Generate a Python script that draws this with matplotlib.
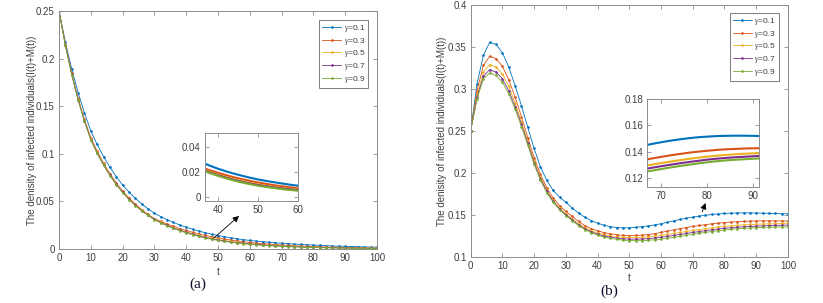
import matplotlib
matplotlib.use("Agg")
from matplotlib import pyplot as plt

# figure data
t = list(range(0, 101, 2))
labels = [r"$\gamma$=0.1", r"$\gamma$=0.3", r"$\gamma$=0.5", r"$\gamma$=0.7", r"$\gamma$=0.9"]

# panel (a)
a_g01 = [.2500, .2174, .1890, .1643, .1429, .1242, .1098, .0971, .0859, .0760, .0672,
         .0598, .0533, .0474, .0422, .0376, .0340, .0308, .0279, .0252, .0228,
         .0207, .0188, .0171, .0155, .0141, .0129, .0118, .0108, .0098, .0090,
         .0083, .0077, .0071, .0065, .0060, .0056, .0052, .0048, .0044, .0041,
         .0038, .0035, .0032, .0030, .0028, .0026, .0024, .0022, .0020, .0019]
a_g03 = [.2500, .2148, .1845, .1585, .1362, .1170, .1027, .0902, .0791, .0695, .0610,
         .0536, .0471, .0414, .0364, .0320, .0290, .0262, .0238, .0215, .0195,
         .0176, .0158, .0143, .0129, .0116, .0105, .0094, .0085, .0077, .0069,
         .0062, .0057, .0051, .0046, .0042, .0038, .0034, .0031, .0028, .0025,
         .0023, .0020, .0018, .0017, .0015, .0014, .0012, .0011, .0010, .0009]
a_g05 = [.2500, .2143, .1836, .1573, .1349, .1156, .1014, .0889, .0780, .0684, .0600,
         .0527, .0462, .0406, .0356, .0313, .0280, .0251, .0225, .0201, .0180,
         .0160, .0142, .0127, .0113, .0100, .0089, .0080, .0071, .0064, .0057,
         .0051, .0046, .0042, .0038, .0034, .0031, .0028, .0025, .0022, .0020,
         .0018, .0016, .0015, .0013, .0012, .0011, .0010, .0009, .0008, .0007]
a_g07 = [.2500, .2141, .1833, .1569, .1343, .1150, .1008, .0884, .0775, .0680, .0596,
         .0523, .0459, .0403, .0354, .0311, .0277, .0247, .0220, .0196, .0175,
         .0155, .0137, .0121, .0107, .0095, .0085, .0075, .0067, .0060, .0053,
         .0048, .0043, .0038, .0034, .0031, .0028, .0025, .0022, .0020, .0018,
         .0016, .0015, .0013, .0012, .0011, .0010, .0009, .0008, .0007, .0006]
a_g09 = [.2500, .2139, .1830, .1566, .1340, .1146, .1004, .0880, .0771, .0676, .0592,
         .0520, .0456, .0401, .0352, .0309, .0274, .0243, .0216, .0192, .0170,
         .0150, .0132, .0116, .0102, .0090, .0080, .0071, .0062, .0055, .0049,
         .0044, .0039, .0035, .0031, .0028, .0025, .0022, .0020, .0018, .0016,
         .0014, .0013, .0012, .0011, .00095, .00085, .00076, .00068, .00061, .00055]

# panel (b)
b_g01 = [.250, .306, .340, .3555, .353, .343, .326, .304, .280, .254, .229,
         .207, .191, .179, .171, .165, .158, .152, .147, .143, .140,
         .1375, .1358, .1348, .1344, .1345, .1350, .1358, .1368, .1380, .1393,
         .1410, .1427, .1444, .1459, .1472, .1484, .1494, .1503, .1510, .1515,
         .1519, .1521, .1522, .1522, .1521, .1519, .1517, .1515, .1513, .1511]
b_g03 = [.250, .298, .328, .339, .336, .327, .311, .290, .267, .242, .218,
         .198, .182, .170, .161, .154, .148, .142, .137, .1335, .1308,
         .1288, .1273, .1262, .1255, .1252, .1253, .1257, .1264, .1275, .1290,
         .1305, .1320, .1335, .1348, .1360, .1372, .1382, .1392, .1400, .1407,
         .1413, .1418, .1421, .1424, .1426, .1427, .1427, .1427, .1427, .1426]
b_g05 = [.250, .293, .320, .329, .326, .318, .303, .283, .261, .237, .214,
         .195, .179, .167, .158, .151, .145, .139, .1345, .1310, .1283,
         .1263, .1249, .1239, .1232, .1229, .1229, .1232, .1237, .1245, .1254,
         .1265, .1277, .1289, .1301, .1313, .1324, .1335, .1345, .1354, .1362,
         .1369, .1375, .1380, .1384, .1387, .1390, .1392, .1394, .1396, .1398]
b_g07 = [.250, .290, .315, .323, .320, .312, .298, .279, .258, .235, .212,
         .193, .178, .166, .157, .150, .144, .138, .1333, .1297, .1269,
         .1248, .1233, .1222, .1214, .1210, .1209, .1211, .1216, .1223, .1232,
         .1242, .1253, .1265, .1277, .1289, .1300, .1311, .1321, .1330, .1339,
         .1346, .1352, .1357, .1361, .1365, .1368, .1371, .1373, .1375, .1377]
b_g09 = [.250, .288, .312, .319, .316, .308, .294, .276, .255, .233, .210,
         .191, .176, .165, .156, .149, .143, .137, .1322, .1286, .1257,
         .1235, .1219, .1207, .1198, .1193, .1191, .1192, .1196, .1202, .1210,
         .1220, .1231, .1243, .1255, .1267, .1279, .1290, .1300, .1310, .1319,
         .1327, .1333, .1338, .1342, .1346, .1349, .1351, .1353, .1354, .1355]

series_a = [a_g01, a_g03, a_g05, a_g07, a_g09]
series_b = [b_g01, b_g03, b_g05, b_g07, b_g09]

# figure params
colors = ["#0072BD", "#D95319", "#EDB120", "#7E2F8E", "#77AC30"]
frame_color = "#8c8c8c"
text_color = "#404040"
ylabel_text = "The denisity of infected individuals(I(t)+M(t))"
plt.rcParams["font.family"] = ["Liberation Sans", "DejaVu Sans"]
plt.rcParams["mathtext.fontset"] = "custom"
plt.rcParams["mathtext.it"] = "Liberation Serif:italic"


def style_axes(ax, fs=7):
    for sp in ax.spines.values():
        sp.set_color(frame_color)
        sp.set_linewidth(0.7)
    ax.tick_params(direction="in", top=True, right=True, length=3, width=0.6,
                   color=frame_color, labelcolor=text_color, labelsize=fs, pad=3)


def fmt(v):
    return ("%g" % v)


# figure making
fig = plt.figure(figsize=(8.23, 3.03), dpi=100)

panels = [
    dict(series=series_a, rect=[0.0717, 0.1782, 0.3864, 0.7855], ylim=(0, 0.25),
         yticks=[0, 0.05, 0.1, 0.15, 0.2, 0.25],
         inset=[0.2491, 0.3366, 0.1134, 0.2254], ixlim=(36.8, 60.2), iylim=(-0.0035, 0.052),
         ixticks=[40, 50, 60], iyticks=[0, 0.02, 0.04],
         arrow=((48.7, 0.0116), (56.6, 0.0347)), leg=(0.972, 0.962),
         tag="(a)", tagpos=(198 / 823, 1 - 284 / 303), tpos=(218 / 823, 1 - 272 / 303),
         ylx=32 / 823),
    dict(series=series_b, rect=[0.5719, 0.1528, 0.3855, 0.8307], ylim=(0.1, 0.4),
         yticks=[0.1, 0.15, 0.2, 0.25, 0.3, 0.35, 0.4],
         inset=[0.7865, 0.3828, 0.1354, 0.2894], ixlim=(67, 91.2), iylim=(0.113, 0.18),
         ixticks=[70, 80, 90], iyticks=[0.12, 0.14, 0.16, 0.18],
         arrow=((73.0, 0.1536), (74.0, 0.164)), leg=(0.9716, 0.968),
         tag="(b)", tagpos=(609 / 823, 1 - 291 / 303), tpos=(629 / 823, 1 - 278 / 303),
         ylx=442 / 823),
]

for p in panels:
    ax = fig.add_axes(p["rect"])
    for ys, c, lab in zip(p["series"], colors, labels):
        ax.plot(t, ys, color=c, lw=0.6, marker=".", ms=1.8, label=lab)
    ax.set_xlim(0, 100)
    ax.set_ylim(*p["ylim"])
    ax.set_xticks(range(0, 101, 10))
    ax.set_yticks(p["yticks"])
    ax.set_yticklabels([fmt(v) for v in p["yticks"]])
    style_axes(ax)
    leg = ax.legend(loc="upper right", bbox_to_anchor=p["leg"], fontsize=6,
                    frameon=True, fancybox=False, handlelength=2.3, labelspacing=0.2,
                    borderpad=0.35, handletextpad=0.3, borderaxespad=0)
    leg.get_frame().set_edgecolor("#404040")
    leg.get_frame().set_linewidth(0.6)
    for txt in leg.get_texts():
        txt.set_color(text_color)

    ax.annotate("", xy=p["arrow"][1], xytext=p["arrow"][0],
                arrowprops=dict(arrowstyle="-|>", color="black", lw=0.6,
                                mutation_scale=9, shrinkA=0, shrinkB=0))

    fig.text(p["ylx"], p["rect"][1] + p["rect"][3] / 2, ylabel_text, rotation=90,
             ha="center", va="center", fontsize=7, color=text_color)
    fig.text(p["tpos"][0], p["tpos"][1], "t", ha="center", va="center",
             fontsize=7, color=text_color)
    fig.text(p["tagpos"][0], p["tagpos"][1], p["tag"], ha="center", va="center",
             fontsize=11, color="#101030", family="Liberation Serif")

    ins = fig.add_axes(p["inset"])
    for ys, c in zip(p["series"], colors):
        ins.plot(t, ys, color=c, lw=1.5)
    ins.set_xlim(*p["ixlim"])
    ins.set_ylim(*p["iylim"])
    ins.set_xticks(p["ixticks"])
    ins.set_yticks(p["iyticks"])
    ins.set_yticklabels([fmt(v) for v in p["iyticks"]])
    style_axes(ins)

fig.savefig("out.png", dpi=100, facecolor="white")
